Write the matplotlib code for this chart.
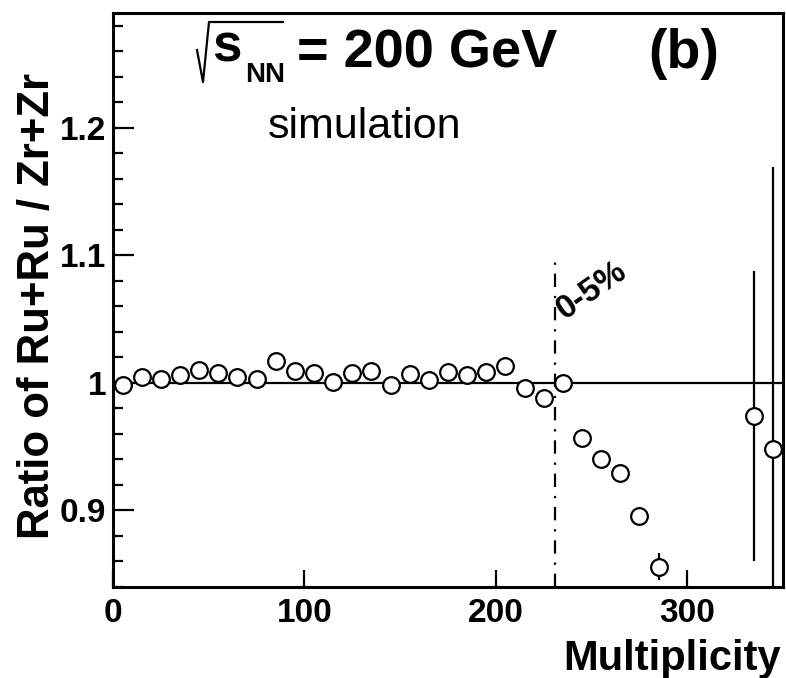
import numpy as np
import matplotlib
matplotlib.use("Agg")
import matplotlib.pyplot as plt
from matplotlib.lines import Line2D

# ratio of Ru+Ru to Zr+Zr multiplicity distributions (simulation)
mult = [5, 15, 25, 35, 45, 55, 65, 75, 85, 95, 105, 115, 125, 135, 145,
        155, 165, 175, 185, 195, 205, 215, 225, 235, 245, 255, 265, 275,
        285, 335, 345]
ratio = [0.998, 1.005, 1.003, 1.006, 1.010, 1.008, 1.0045, 1.003, 1.017,
         1.009, 1.008, 1.001, 1.0077, 1.009, 0.9987, 1.0066, 1.002, 1.0085,
         1.006, 1.0084, 1.0131, 0.996, 0.988, 1.000, 0.957, 0.940, 0.929,
         0.896, 0.856, 0.974, 0.948]
ratio_err = [0.002, 0.002, 0.002, 0.002, 0.002, 0.002, 0.002, 0.002, 0.002,
             0.002, 0.002, 0.002, 0.002, 0.002, 0.002, 0.002, 0.002, 0.002,
             0.002, 0.003, 0.003, 0.003, 0.003, 0.004, 0.004, 0.005, 0.005,
             0.007, 0.0105, 0.1135, 0.221]
central_cut = 231  # 0-5% centrality boundary

plt.rcParams['font.family'] = ['Liberation Sans', 'DejaVu Sans']

W, H = 786, 678
fig = plt.figure(figsize=(W / 100, H / 100), dpi=100)
ax = fig.add_axes([113 / W, 1 - 587 / H, (783 - 113) / W, (587 - 13) / H])

ax.set_xlim(0, 350)
ax.set_ylim(0.84, 1.29)

# reference line and centrality cut
ax.axhline(1.0, color='k', lw=1.6, zorder=1)
ax.plot([central_cut, central_cut], [0.84, 1.1], color='k', lw=1.6,
        ls=(0, (6, 4, 1, 4)), zorder=1)

ax.errorbar(mult, ratio, yerr=ratio_err, fmt='none', ecolor='k',
            elinewidth=1.6, capsize=0, zorder=2)
ax.plot(mult, ratio, 'o', ms=12, mfc='white', mec='k', mew=1.6,
        ls='none', zorder=3)

ax.set_xticks([0, 100, 200, 300])
ax.set_yticks([0.9, 1.0, 1.1, 1.2])
ax.set_yticklabels(['0.9', '1', '1.1', '1.2'])
ax.set_yticks(np.arange(0.84, 1.2901, 0.02), minor=True)
ax.tick_params(axis='both', which='major', direction='in', length=15,
               width=1.6, labelsize=24, pad=5)
ax.tick_params(axis='y', which='minor', direction='in', length=7.5, width=1.6)
ax.tick_params(axis='x', which='major', length=12.5, pad=8)
for lab in ax.get_xticklabels() + ax.get_yticklabels():
    lab.set_fontweight('bold')
for side in ax.spines.values():
    side.set_linewidth(2.2)

ax.set_ylabel('Ratio of Ru+Ru / Zr+Zr', fontsize=31.5, fontweight='bold')
ax.yaxis.set_label_coords(-0.082, 0.49)
ax.set_xlabel('Multiplicity', fontsize=30, fontweight='bold', ha='right')
ax.xaxis.set_label_coords(0.997, -0.09)


def ftext(x, y, s, **kw):
    fig.text(x / W, 1 - y / H, s, **kw)


# sqrt(s_NN) built from pieces: radical sign, s, small NN subscript
rad_x = [197, 203, 209, 283]
rad_y = [50, 82, 22, 22]
fig.add_artist(Line2D([x / W for x in rad_x], [1 - y / H for y in rad_y],
                      transform=fig.transFigure, color='k', lw=1.6))
ftext(212, 62, 's', fontsize=38, fontweight='bold', va='baseline')
ftext(245, 82, 'NN', fontsize=20, fontweight='bold', va='baseline')
ftext(297, 68, '= 200 GeV', fontsize=39, fontweight='bold', va='baseline')
ftext(648, 68, '(b)', fontsize=40, fontweight='bold', va='baseline')
ftext(268, 138, 'simulation', fontsize=31, va='baseline')
ax.text(236, 1.049, '0-5%', fontsize=24, fontweight='bold',
        rotation=35, rotation_mode='anchor', ha='left', va='baseline')

fig.savefig('out.png', dpi=100)
